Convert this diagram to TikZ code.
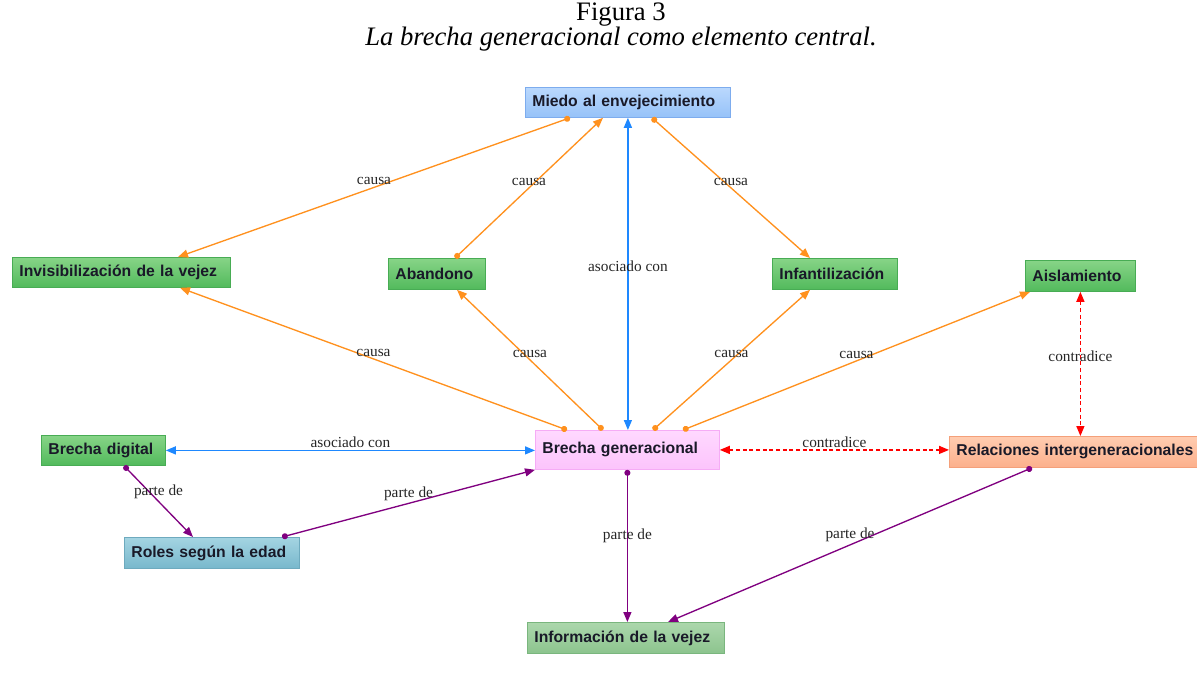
\documentclass[tikz,border=0pt]{standalone}
\usepackage{fontspec}
\setmainfont{Liberation Serif}
\setsansfont{Liberation Sans}
\usepackage{xcolor}
\usetikzlibrary{arrows.meta, positioning}

\definecolor{bluetop}{RGB}{186,216,253}
\definecolor{bluebot}{RGB}{150,194,248}
\definecolor{blueedge}{RGB}{125,172,238}
\definecolor{greentop}{RGB}{135,212,135}
\definecolor{greenbot}{RGB}{82,186,92}
\definecolor{greenedge}{RGB}{72,172,84}
\definecolor{palegreentop}{RGB}{172,215,172}
\definecolor{palegreenbot}{RGB}{140,196,142}
\definecolor{palegreenedge}{RGB}{122,182,126}
\definecolor{pinktop}{RGB}{255,216,255}
\definecolor{pinkbot}{RGB}{252,196,252}
\definecolor{pinkedge}{RGB}{246,172,246}
\definecolor{salmontop}{RGB}{255,204,176}
\definecolor{salmonbot}{RGB}{252,176,140}
\definecolor{salmonedge}{RGB}{244,160,122}
\definecolor{tealtop}{RGB}{164,212,226}
\definecolor{tealbot}{RGB}{120,184,204}
\definecolor{tealedge}{RGB}{110,170,190}
\definecolor{causeline}{RGB}{255,145,30}
\definecolor{assocline}{RGB}{30,136,255}
\definecolor{contraline}{RGB}{255,0,0}
\definecolor{partline}{RGB}{128,0,128}
\definecolor{boxtext}{RGB}{25,25,40}

\begin{document}
\begin{tikzpicture}[
    x=0.75pt, y=-0.75pt,
    box/.style={rectangle, anchor=north west, inner xsep=5.25pt, inner ysep=0pt, line width=0.6pt, align=left, text=boxtext, font=\sffamily\bfseries\fontsize{11.8}{13}\selectfont},
    bluebox/.style={box, draw=blueedge, top color=bluetop, bottom color=bluebot},
    greenbox/.style={box, draw=greenedge, top color=greentop, bottom color=greenbot},
    palegreenbox/.style={box, draw=palegreenedge, top color=palegreentop, bottom color=palegreenbot},
    pinkbox/.style={box, draw=pinkedge, top color=pinktop, bottom color=pinkbot},
    salmonbox/.style={box, draw=salmonedge, top color=salmontop, bottom color=salmonbot},
    tealbox/.style={box, draw=tealedge, top color=tealtop, bottom color=tealbot},
    link/.style={line width=1pt},
    causa/.style={link, draw=causeline, {Circle[length=4.5pt]}-{Triangle[length=7.5pt,width=6pt]}},
    asoc/.style={link, draw=assocline, {Triangle[length=7.5pt,width=6pt]}-{Triangle[length=7.5pt,width=6pt]}},
    contra/.style={link, draw=contraline, dash pattern=on 3pt off 2pt, {Triangle[length=7.5pt,width=6pt]}-{Triangle[length=7.5pt,width=6pt]}},
    parte/.style={link, draw=partline, {Circle[length=4.5pt]}-{Triangle[length=7.5pt,width=6pt]}},
    edgetext/.style={midway, above, inner sep=1.5pt, text=black!85, font=\fontsize{11.5}{12}\selectfont},
    titletext/.style={inner sep=0pt, font=\fontsize{20}{22}\selectfont}
]

\fill[white] (0,0) rectangle (1197,687);
\useasboundingbox (0,0) rectangle (1197,687);

% Title
\node[titletext] (title) at (621,15) {Figura 3};
\node[titletext, below=0pt of title] (subtitle) {\textit{La brecha generacional como elemento central.}};

% Nodes
\node[bluebox, text width=143.25pt, minimum height=22.5pt] (miedo) at (525,87) {Miedo al envejecimiento};
\node[greenbox, text width=153pt, minimum height=22.5pt] (invis) at (12,257) {Invisibilización de la vejez};
\node[greenbox, text width=62.25pt, minimum height=23.25pt] (abandono) at (388,258) {Abandono};
\node[greenbox, text width=83.25pt, minimum height=23.25pt] (infant) at (772,258) {Infantilización};
\node[greenbox, text width=72pt, minimum height=23.25pt] (aisl) at (1025,260) {Aislamiento};
\node[pinkbox, text width=127.5pt, minimum height=29.25pt] (brecha) at (535,430) {Brecha generacional};
\node[salmonbox, text width=180pt, minimum height=23.25pt] (rel) at (949,436) {Relaciones intergeneracionales};
\node[greenbox, text width=82.5pt, minimum height=22.5pt] (digital) at (41,435) {Brecha digital};
\node[tealbox, text width=120.75pt, minimum height=23.25pt] (roles) at (124,537) {Roles según la edad};
\node[palegreenbox, text width=137.25pt, minimum height=23.25pt] (info) at (527,622) {Información de la vejez};

% Arrows
\draw[causa] ([shift={(45,0)}]miedo.south west) -- node[edgetext]{causa} ([shift={(166,0)}]invis.north west);
\draw[causa] ([shift={(67,0)}]abandono.north west) -- node[edgetext]{causa} ([shift={(78,0)}]miedo.south west);
\draw[asoc] (miedo.south) -- node[edgetext]{asociado con} (miedo.south |- brecha.north);
\draw[causa] ([shift={(127,0)}]miedo.south west) -- node[edgetext]{causa} ([shift={(38,0)}]infant.north west);
\draw[causa] ([shift={(32,0)}]brecha.north west) -- node[edgetext]{causa} ([shift={(168,0)}]invis.south west);
\draw[causa] ([shift={(68,0)}]brecha.north west) -- node[edgetext]{causa} ([shift={(69,0)}]abandono.south west);
\draw[causa] ([shift={(118,0)}]brecha.north west) -- node[edgetext]{causa} ([shift={(38,0)}]infant.south west);
\draw[causa] ([shift={(148,0)}]brecha.north west) -- node[edgetext]{causa} ([shift={(5,0)}]aisl.south west);
\draw[contra] (aisl.south) -- node[edgetext]{contradice} (aisl.south |- rel.north);
\draw[contra] (brecha.east) -- node[edgetext]{contradice} (brecha.east -| rel.west);
\draw[asoc] (digital.east) -- node[edgetext]{asociado con} (digital.east -| brecha.west);
\draw[parte] ([shift={(83,0)}]digital.south west) -- node[edgetext]{parte de} ([shift={(69,0)}]roles.north west);
\draw[parte] ([shift={(158,0)}]roles.north west) -- node[edgetext]{parte de} (brecha.south west);
\draw[parte] (brecha.south) -- node[edgetext]{parte de} (brecha.south |- info.north);
\draw[parte] ([shift={(83,0)}]rel.south west) -- node[edgetext]{parte de} ([shift={(141,0)}]info.north west);

\end{tikzpicture}
\end{document}
